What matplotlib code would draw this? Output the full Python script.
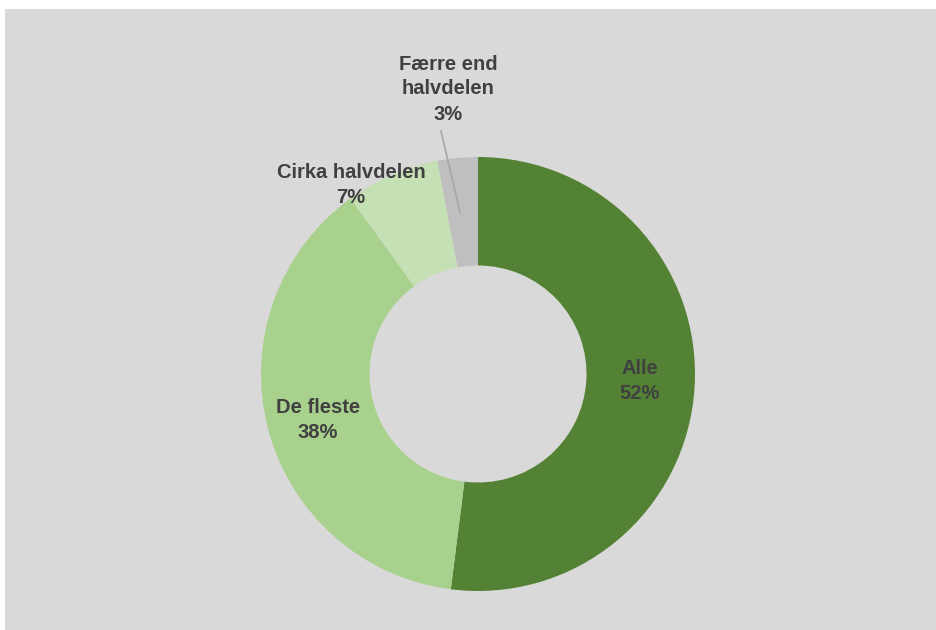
import matplotlib.pyplot as plt
from matplotlib.patches import Rectangle

plt.rcParams['font.family'] = ['Liberation Sans', 'DejaVu Sans']

# data
labels = ['Alle', 'De fleste', 'Cirka halvdelen', 'Færre end halvdelen']
values = [52, 38, 7, 3]
colors = ['#548235', '#A9D18E', '#C5E0B4', '#BFBFBF']

W, H = 936, 630
fig = plt.figure(figsize=(W / 100, H / 100), dpi=100, facecolor='white')
ax = fig.add_axes([0, 0, 1, 1])
ax.set_facecolor('white')

# grey chart area
ax.add_patch(Rectangle((5, 0), W - 5, H - 9, facecolor='#D9D9D9', edgecolor='none', zorder=0))

cx, cy, r = 478, H - 374, 217
wedges, _ = ax.pie(values, colors=colors, startangle=90, counterclock=False,
                   center=(cx, cy), radius=r,
                   wedgeprops=dict(width=r * 0.5, linewidth=0))
for w in wedges:
    w.set_zorder(2)

# labels (pixel positions converted to data coords)
txt = dict(ha='center', va='center', fontsize=14.5, fontweight='bold',
           color='#404040', linespacing=1.4, zorder=3)
ax.text(640, H - 381, 'Alle\n52%', **txt)
ax.text(318, H - 420, 'De fleste\n38%', **txt)
ax.text(351, H - 185, 'Cirka halvdelen\n7%', **txt)
ax.text(448, H - 89, 'Færre end\nhalvdelen\n3%', **txt)
ax.plot([441, 460], [H - 131, H - 212], color='#A6A6A6', lw=1.2, zorder=3)

ax.set_xlim(0, W)
ax.set_ylim(0, H)
ax.set_aspect('auto')
ax.axis('off')

plt.savefig('out.png', dpi=100, facecolor='white')
